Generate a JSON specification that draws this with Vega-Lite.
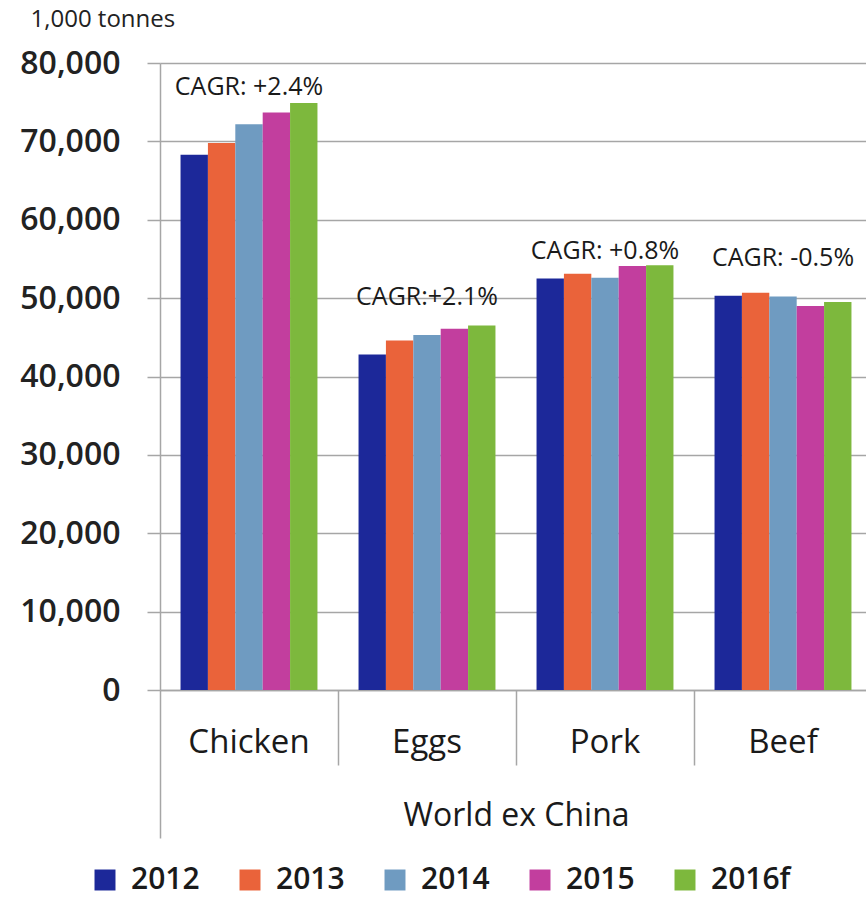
{
  "$schema": "https://vega.github.io/schema/vega-lite/v6.json",
  "autosize": {"type": "none"},
  "padding": {"left": 160, "top": 63, "right": 0, "bottom": 207},
  "width": 706,
  "height": 627,
  "background": "white",
  "config": {
    "view": {"stroke": null},
    "font": "Open Sans"
  },
  "datasets": {
    "production": [
      {"product": "Chicken", "year": "2012", "value": 68300},
      {"product": "Chicken", "year": "2013", "value": 69800},
      {"product": "Chicken", "year": "2014", "value": 72200},
      {"product": "Chicken", "year": "2015", "value": 73700},
      {"product": "Chicken", "year": "2016f", "value": 74900},
      {"product": "Eggs", "year": "2012", "value": 42800},
      {"product": "Eggs", "year": "2013", "value": 44600},
      {"product": "Eggs", "year": "2014", "value": 45300},
      {"product": "Eggs", "year": "2015", "value": 46100},
      {"product": "Eggs", "year": "2016f", "value": 46500},
      {"product": "Pork", "year": "2012", "value": 52500},
      {"product": "Pork", "year": "2013", "value": 53100},
      {"product": "Pork", "year": "2014", "value": 52600},
      {"product": "Pork", "year": "2015", "value": 54100},
      {"product": "Pork", "year": "2016f", "value": 54200},
      {"product": "Beef", "year": "2012", "value": 50300},
      {"product": "Beef", "year": "2013", "value": 50700},
      {"product": "Beef", "year": "2014", "value": 50200},
      {"product": "Beef", "year": "2015", "value": 49000},
      {"product": "Beef", "year": "2016f", "value": 49500}
    ],
    "cagr": [
      {"product": "Chicken", "label": "CAGR: +2.4%", "y": 77000},
      {"product": "Eggs", "label": "CAGR:+2.1%", "y": 50200},
      {"product": "Pork", "label": "CAGR: +0.8%", "y": 56000},
      {"product": "Beef", "label": "CAGR: -0.5%", "y": 55100}
    ]
  },
  "layer": [
    {
      "data": {"name": "production"},
      "mark": {"type": "bar"},
      "encoding": {
        "x": {
          "field": "product",
          "type": "nominal",
          "sort": ["Chicken", "Eggs", "Pork", "Beef"],
          "scale": {"paddingInner": 0, "paddingOuter": 0, "range": [0, 712]},
          "axis": {
            "orient": "bottom",
            "title": "World ex China",
            "titleY": 135,
            "titleBaseline": "alphabetic",
            "titleFontSize": 32,
            "titleFontWeight": "normal",
            "titleColor": "#1a1a1a",
            "labelFontSize": 33,
            "labelColor": "#1a1a1a",
            "labelPadding": 36,
            "labelAngle": 0,
            "ticks": false,
            "grid": false,
            "domainColor": "#a6a6a6",
            "domainWidth": 1.5
          }
        },
        "xOffset": {
          "field": "year",
          "type": "nominal",
          "scale": {"paddingInner": 0, "paddingOuter": 0.75}
        },
        "y": {
          "field": "value",
          "type": "quantitative",
          "scale": {"domain": [0, 80000], "nice": false},
          "axis": {
            "title": "1,000 tonnes",
            "titleAngle": 0,
            "titleX": -130,
            "titleY": -56,
            "titleAlign": "left",
            "titleBaseline": "top",
            "titleFontSize": 24,
            "titleFontWeight": "normal",
            "titleColor": "#222222",
            "values": [0, 10000, 20000, 30000, 40000, 50000, 60000, 70000, 80000],
            "format": ",d",
            "labelFontSize": 32,
            "labelFontWeight": 600,
            "labelColor": "#222222",
            "tickSize": 13,
            "labelPadding": 27,
            "tickColor": "#a6a6a6",
            "tickWidth": 1.5,
            "domainColor": "#a6a6a6",
            "domainWidth": 1.5,
            "gridColor": "#a6a6a6",
            "gridWidth": 1.5
          }
        },
        "color": {
          "field": "year",
          "type": "nominal",
          "scale": {
            "domain": ["2012", "2013", "2014", "2015", "2016f"],
            "range": ["#1c2899", "#ea633a", "#6f9bc1", "#c23e9e", "#7db83d"]
          },
          "legend": {
            "title": null,
            "orient": "none",
            "legendX": -70,
            "legendY": 802,
            "direction": "horizontal",
            "columns": 5,
            "gridAlign": "all",
            "padding": 0,
            "symbolType": "square",
            "symbolSize": 440,
            "symbolStrokeWidth": 0,
            "symbolOpacity": 1,
            "labelFontSize": 30,
            "labelFontWeight": 600,
            "labelColor": "#1a1a1a",
            "labelOffset": 11,
            "columnPadding": 24
          }
        }
      }
    },
    {
      "data": {"name": "cagr"},
      "mark": {"type": "text", "fontSize": 25, "color": "#1a1a1a", "baseline": "middle"},
      "encoding": {
        "x": {
          "field": "product",
          "type": "nominal",
          "sort": ["Chicken", "Eggs", "Pork", "Beef"],
          "axis": {
            "orient": "bottom",
            "title": null,
            "labels": false,
            "domain": false,
            "grid": false,
            "bandPosition": 0,
            "tickSize": {"condition": {"test": "datum.value === 'Chicken'", "value": 148}, "value": 75},
            "tickColor": "#a6a6a6",
            "tickWidth": 1.5
          }
        },
        "y": {"field": "y", "type": "quantitative"},
        "text": {"field": "label"}
      }
    }
  ],
  "resolve": {"axis": {"x": "independent"}}
}
